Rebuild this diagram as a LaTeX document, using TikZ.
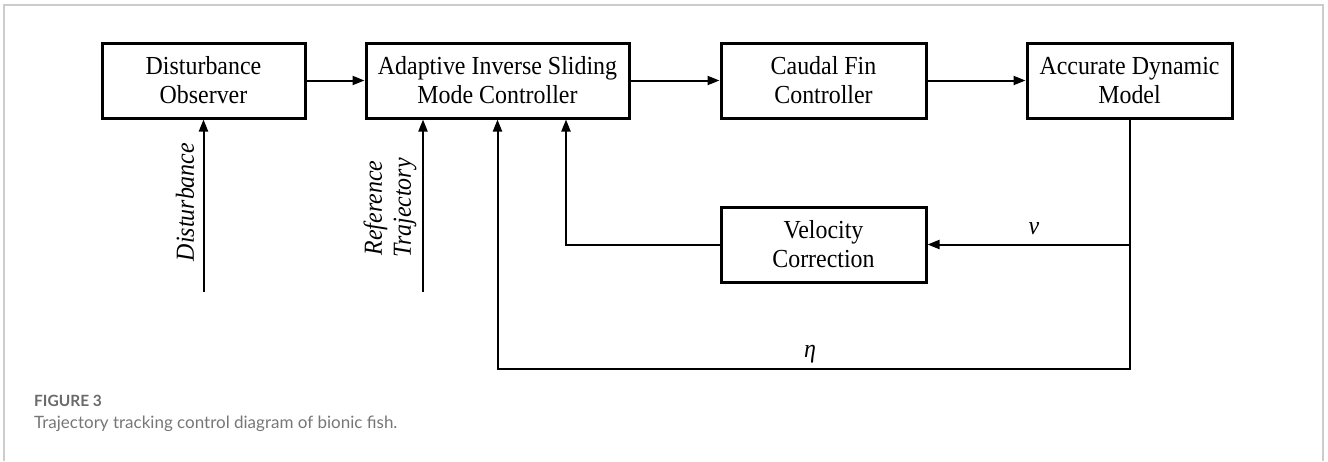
\documentclass[tikz,border=0pt]{standalone}
\usepackage{fontspec}
\setmainfont{Liberation Serif}[FakeStretch=0.92]
\newfontfamily\capfont{Lato}
\usetikzlibrary{arrows.meta}
\definecolor{framegray}{HTML}{CCCCCC}
\definecolor{capgray}{HTML}{6A6A6A}
\definecolor{captextgray}{HTML}{767676}
\begin{document}
\begin{tikzpicture}[x=1pt,y=-1pt,
  blockbox/.style={draw, line width=3pt, minimum width=#1, minimum height=75pt, align=center, font=\fontsize{26}{29}\selectfont, inner sep=0pt},
  conn/.style={line width=2pt, -{Triangle[length=12pt,width=9pt]}},
  lbl/.style={font=\fontsize{26}{29}\selectfont\itshape, inner sep=0pt}]
\useasboundingbox (0,0) rectangle (1328,461);
\draw[framegray, line width=1.5pt] (4,461) -- (4,5) -- (1323,5) -- (1323,461);

\node[blockbox=203pt] (do) at (203.5,80.5) {Disturbance\\Observer};
\node[blockbox=263pt] (ai) at (497.5,80.5) {Adaptive Inverse Sliding\\Mode Controller};
\node[blockbox=205pt] (cf) at (823.5,80.5) {Caudal Fin\\Controller};
\node[blockbox=205pt] (adm) at (1129.5,80.5) {Accurate Dynamic\\Model};
\node[blockbox=205pt] (vc) at (823.5,244.5) {Velocity\\Correction};

\coordinate (dist0) at (203.5,292);
\coordinate (ref0) at (423,292);
\coordinate (etac) at (1129.5,369);
\coordinate (etal) at (497.5,369);
\coordinate (vj) at (1129.5,244.5);
\coordinate (vl) at (566,244.5);

\draw[conn] (do.east) -- (ai.west);
\draw[conn] (ai.east) -- (cf.west);
\draw[conn] (cf.east) -- (adm.west);
\draw[conn] (dist0) -- (do.south);
\draw[conn] (ref0) -- (ref0 |- ai.south);
\draw[conn] (adm.south) -- (etac) -- (etal) -- (ai.south);
\draw[conn] (vj) -- (vc.east);
\draw[conn] (vc.west) -- (vl) -- (vl |- ai.south);

\node[lbl, rotate=90] (dl) at (185,202) {Disturbance};
\node[lbl, rotate=90, align=center] (rl) at (390,208) {Reference\\Trajectory};
\node[lbl] (vlab) at (1034,229) {v};
\node[lbl] (etalab) at (810,354) {η};

\node[anchor=west, inner sep=0pt, font=\capfont\bfseries\fontsize{15.5}{18}\selectfont, text=capgray] (fig) at (34,401) {FIGURE 3};
\node[anchor=west, inner sep=0pt, font=\capfont\fontsize{17}{20}\selectfont, text=captextgray] (cap) at (34,424) {Trajectory tracking control diagram of bionic fish.};
\end{tikzpicture}
\end{document}
